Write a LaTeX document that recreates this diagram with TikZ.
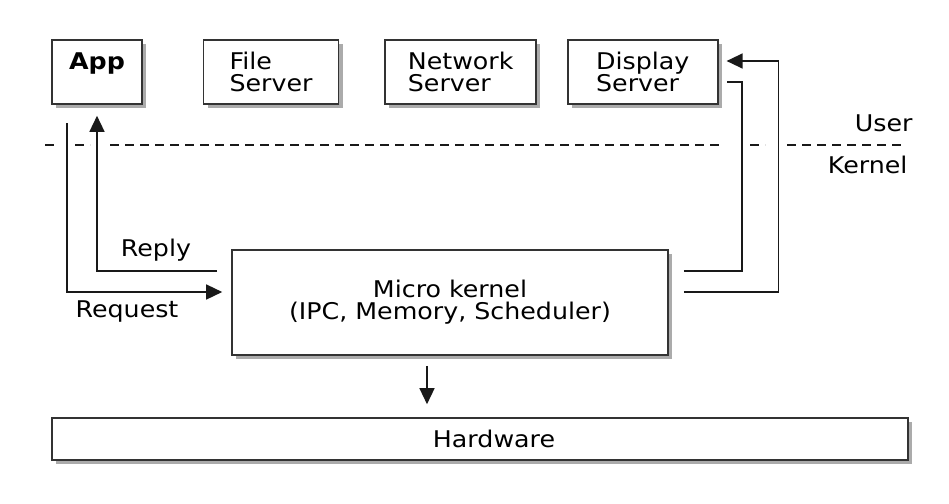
\documentclass[tikz,border=0pt]{standalone}
\usepackage{fontspec}
\setmainfont{DejaVu Sans}[FakeStretch=1.1]
\usetikzlibrary{positioning, shadows, arrows.meta, calc}

\begin{document}
\begin{tikzpicture}
        [
            x=1pt, y=-1pt,
            every node/.style={font=\fontsize{23}{22}\selectfont},
            box/.style={rectangle, draw=black!80, line width=1.6pt, fill=white,
                        drop shadow={shadow xshift=4pt, shadow yshift=-4pt,
                                     fill=black!55, opacity=0.6},
                        minimum height=64pt, align=left, inner sep=0pt},
            arr/.style={-{Triangle[length=16pt, width=15pt]}, line width=1.4pt, black!90},
            wire/.style={line width=1.4pt, black!90},
            sep/.style={line width=1.3pt, black!90, dash pattern=on 9pt off 6pt}
        ]
        \useasboundingbox (0,0) rectangle (949,503);
        \node (app) [box, minimum width=90pt,
                     label={[anchor=north, yshift=-10pt,
                             font=\fontsize{23}{22}\selectfont\bfseries]north:App}] at (97,72) {};
        \node (fsrv) [box, minimum width=135pt, right=60pt of app] {File\\Server};
        \node (nsrv) [box, minimum width=151pt, right=45pt of fsrv] {Network\\Server};
        \node (dsrv) [box, minimum width=150pt, right=30pt of nsrv] {Display\\Server};
        \node (micro) [box, minimum width=436pt, minimum height=105pt, align=center]
            at (450,302.5) {Micro kernel\\(IPC, Memory, Scheduler)};
        \node (hw) [box, minimum width=856pt, minimum height=42pt] at (480,439)
            {\hspace*{28pt}Hardware};
        \node (user) [anchor=east] at (916,123) {User};
        \node (kernel) [anchor=east] at (911,165) {Kernel};
        \node (reply) at (156,250) {Reply};
        \node (request) at (127,312) {Request};
        % user / kernel border
        \foreach \a/\b in {45/57,75/90,110/722,750/765,787/902}
            \draw [sep] (\a,145) -- (\b,145);
        \coordinate (reqstart) at (67,123);
        \coordinate (dsin) at (727,82);
        \draw [arr] (reqstart) |- ([xshift=-9pt, yshift=10.5pt]micro.west);
        \draw [arr] ([xshift=-14pt, yshift=31.5pt]micro.west) -| ([yshift=-11pt]app.south);
        \draw [wire] ([xshift=15pt, yshift=31.5pt]micro.east) -| ([xshift=15pt]dsin) -- (dsin);
        \draw [arr] ([xshift=15pt, yshift=10.5pt]micro.east)
            -| ([xshift=60pt, yshift=11pt]dsrv.east) -- ([xshift=8pt, yshift=11pt]dsrv.east);
        \draw [arr] ([xshift=-23pt, yshift=-10pt]micro.south)
            -- ([xshift=-53pt, yshift=13pt]hw.north);
    \end{tikzpicture}
\end{document}
